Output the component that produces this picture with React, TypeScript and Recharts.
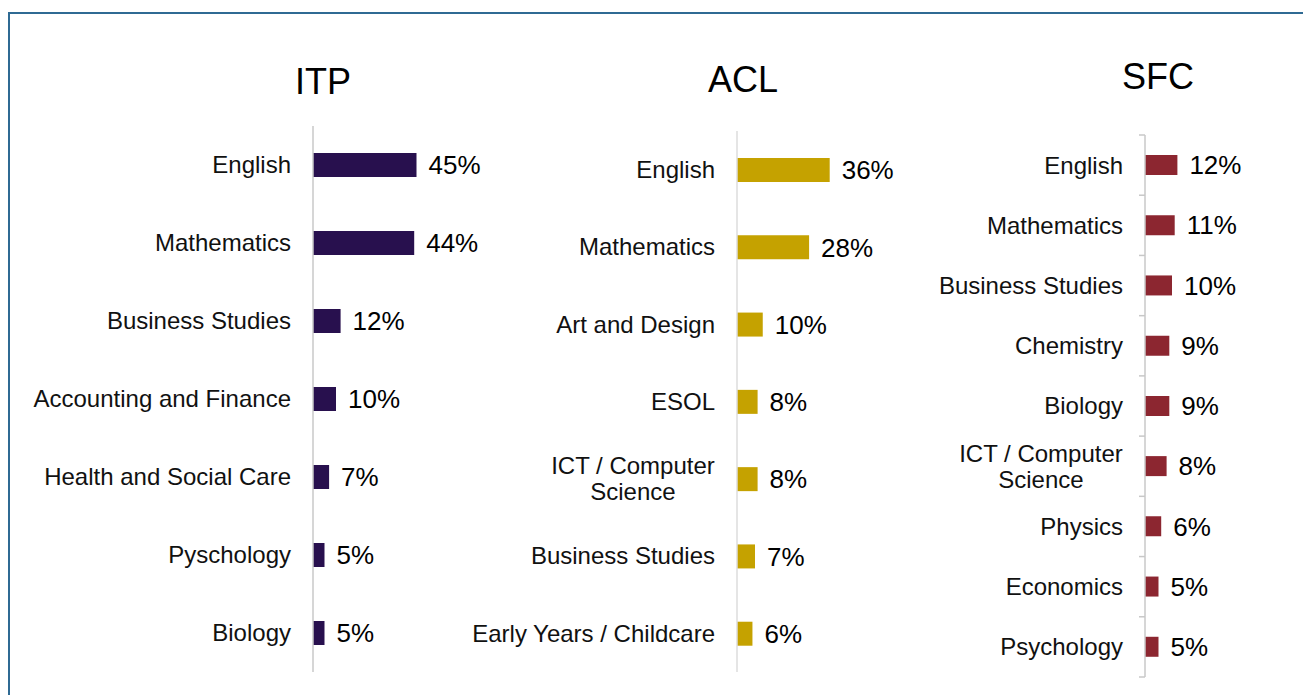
import React from 'react'
import { BarChart, Bar, XAxis, YAxis, LabelList } from 'recharts'

const itpSubjects = ['English', 'Mathematics', 'Business Studies', 'Accounting and Finance', 'Health and Social Care', 'Pyschology', 'Biology']
const itpShares = [45, 44, 12, 10, 7, 5, 5]

const aclSubjects = ['English', 'Mathematics', 'Art and Design', 'ESOL', 'ICT / Computer Science', 'Business Studies', 'Early Years / Childcare']
const aclShares = [36, 28, 10, 8, 8, 7, 6]

const sfcSubjects = ['English', 'Mathematics', 'Business Studies', 'Chemistry', 'Biology', 'ICT / Computer Science', 'Physics', 'Economics', 'Psychology']
const sfcShares = [12, 11, 10, 9, 9, 8, 6, 5, 5]

const titles = ['ITP', 'ACL', 'SFC']

const FONT = '"Liberation Sans", Arial, sans-serif'
const H = 695

let ctx: CanvasRenderingContext2D | null = null
function textWidth(s: string, size: number) {
  if (!ctx) ctx = document.createElement('canvas').getContext('2d')
  if (!ctx) return s.length * size * 0.5
  ctx.font = `${size}px "Liberation Sans"`
  return ctx.measureText(s).width
}

// greedy word wrap, like the office chart does for long labels
function wrap(label: string, maxWidth: number, size: number) {
  const words = label.split(' ')
  const lines: string[] = []
  let cur = ''
  words.forEach((w) => {
    const next = cur ? cur + ' ' + w : w
    if (cur && textWidth(next, size) > maxWidth) {
      lines.push(cur)
      cur = w
    } else {
      cur = next
    }
  })
  if (cur) lines.push(cur)
  return lines
}

interface PanelProps {
  left: number
  axisW: number
  top: number
  bottom: number
  max: number
  plotW: number
  names: string[]
  values: number[]
  color: string
  barSize: number
  axisColor: string
  brackets?: boolean
  wrapWidth: number
}

function Panel({ left, axisW, top, bottom, max, plotW, names, values, color, barSize, axisColor, brackets, wrapWidth }: PanelProps) {
  const data = names.map((name, i) => ({ name, value: values[i] }))
  const width = axisW + plotW + 90
  const band = (H - top - bottom) / names.length

  const Tick = (props: any) => {
    const { y, index, payload } = props
    const lines = wrap(String(payload.value), wrapWidth, 24)
    const right = axisW - 22
    const blockW = Math.max(...lines.map((l) => textWidth(l, 24)))
    const cx = right - blockW / 2
    const lh = 26
    return (
      <g>
        {lines.map((l, i) => (
          <text
            key={i}
            x={lines.length > 1 ? cx : right}
            y={y + (i - (lines.length - 1) / 2) * lh}
            dy="0.35em"
            textAnchor={lines.length > 1 ? 'middle' : 'end'}
            fontSize={24}
            fontFamily={FONT}
            fill="#111"
          >
            {l}
          </text>
        ))}
        {brackets && (
          <line x1={axisW - 6} x2={axisW} y1={y - band / 2} y2={y - band / 2} stroke={axisColor} strokeWidth={1.5} />
        )}
        {brackets && index === names.length - 1 && (
          <line x1={axisW - 6} x2={axisW} y1={y + band / 2} y2={y + band / 2} stroke={axisColor} strokeWidth={1.5} />
        )}
      </g>
    )
  }

  return (
    <div style={{ position: 'absolute', left, top: 0 }}>
      <BarChart
        width={width}
        height={H}
        data={data}
        layout="vertical"
        margin={{ top, bottom, left: 0, right: 90 }}
        style={{ overflow: 'visible' }}
      >
        <XAxis type="number" domain={[0, max]} hide />
        <YAxis
          type="category"
          dataKey="name"
          width={axisW}
          interval={0}
          tickLine={false}
          axisLine={{ stroke: axisColor, strokeWidth: 1.5 }}
          tick={Tick}
        />
        <Bar dataKey="value" fill={color} barSize={barSize} isAnimationActive={false}>
          <LabelList
            dataKey="value"
            position="right"
            offset={12}
            formatter={(v: any) => `${v}%`}
            fill="#000"
            fontSize={26}
            fontFamily={FONT}
          />
        </Bar>
      </BarChart>
    </div>
  )
}

export default function App() {
  return (
    <div
      style={{
        position: 'absolute',
        left: 0,
        top: 0,
        width: 1303,
        height: H,
        background: '#fff',
        overflow: 'hidden',
        fontFamily: FONT,
      }}
    >
      <div
        style={{
          position: 'absolute',
          left: 8,
          top: 12,
          width: 1400,
          height: 800,
          borderTop: '2px solid #2F6A93',
          borderLeft: '2px solid #2F6A93',
        }}
      />

      {/* ITP */}
      <Panel
        left={0}
        axisW={313}
        top={126}
        bottom={23}
        max={50}
        plotW={115}
        names={itpSubjects}
        values={itpShares}
        color="#28104E"
        barSize={24}
        axisColor="#C8C8C8"
        wrapWidth={300}
      />

      {/* ACL */}
      <Panel
        left={440}
        axisW={297}
        top={131}
        bottom={23}
        max={40}
        plotW={103}
        names={aclSubjects}
        values={aclShares}
        color="#C5A200"
        barSize={24}
        axisColor="#DDDDDD"
        wrapWidth={250}
      />

      {/* SFC */}
      <Panel
        left={900}
        axisW={245}
        top={135}
        bottom={18}
        max={20}
        plotW={54}
        names={sfcSubjects}
        values={sfcShares}
        color="#8C2630"
        barSize={20}
        axisColor="#C8C8C8"
        brackets
        wrapWidth={200}
      />

      <svg width={1303} height={H} style={{ position: 'absolute', left: 0, top: 0, pointerEvents: 'none' }}>
        {titles.map((t, i) => (
          <text
            key={t}
            x={[323, 743, 1158][i]}
            y={[94, 92, 89][i]}
            textAnchor="middle"
            fontSize={36}
            fontFamily={FONT}
            fill="#000"
          >
            {t}
          </text>
        ))}
      </svg>
    </div>
  )
}
